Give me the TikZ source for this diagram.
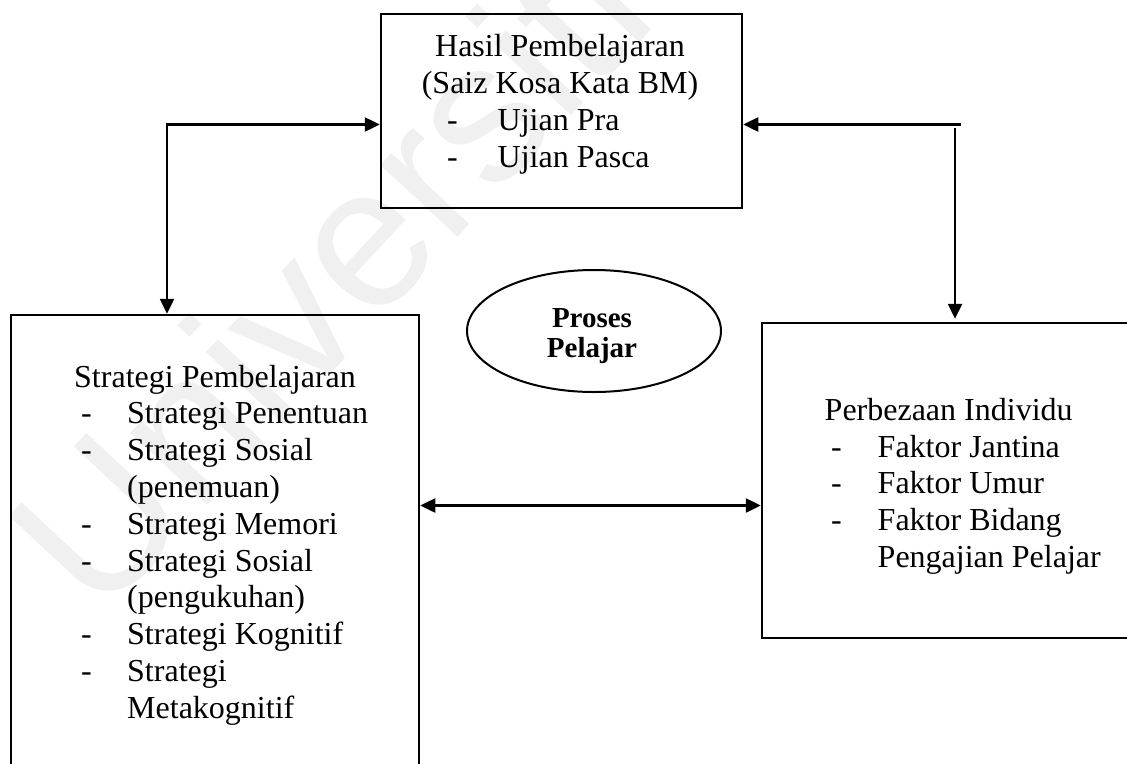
\documentclass[tikz,border=0pt]{standalone}
\usepackage{fontspec}
\setmainfont{Liberation Serif}
\newfontfamily\wmfont{Liberation Sans}
\usetikzlibrary{arrows.meta,shapes.geometric}
\begin{document}
\begin{tikzpicture}[x=1pt,y=-1pt,
  boxst/.style={draw, line width=2.5pt, inner sep=0pt, rectangle},
  ovalst/.style={draw, line width=2pt, inner sep=0pt, ellipse},
  lbl/.style={inner sep=0pt, anchor=base west, font=\fontsize{32}{36.8}\selectfont},
  clbl/.style={inner sep=0pt, anchor=base, font=\fontsize{32}{36.8}\selectfont},
  blbl/.style={inner sep=0pt, anchor=base, font=\fontsize{29}{30}\selectfont\bfseries},
  tipst/.tip={Triangle[length=15pt,width=14pt]},
  twoway/.style={line width=2.5pt, tipst-tipst},
  oneway/.style={line width=2.5pt, -tipst},
  wm/.style={inner sep=0pt, text=black!6, font=\fontsize{200}{200}\wmfont}
]
\useasboundingbox (0,0) rectangle (1127,763);
\clip (0,0) rectangle (1127,763);

% watermark
\node[wm, rotate=47] (wmark) at (328,272) {Universiti};

% boxes
\node[boxst, minimum width=361pt, minimum height=194pt] (top) at (561.5,111) {};
\node[boxst, minimum width=408pt, minimum height=485pt] (left) at (215,557.5) {};
\node[boxst, minimum width=383pt, minimum height=315pt] (right) at (953.5,480.5) {};
\node[ovalst, minimum width=254pt, minimum height=122pt] (oval) at (594,331) {};

% top box text
\node[clbl] (t1) at (560,56) {Hasil Pembelajaran};
\node[clbl] (t2) at (560,93) {(Saiz Kosa Kata BM)};
\node[lbl] (t3d) at (447,130) {-};
\node[lbl] (t3) at (497.5,130) {Ujian Pra};
\node[lbl] (t4d) at (447,167) {-};
\node[lbl] (t4) at (497.5,167) {Ujian Pasca};

% ellipse text
\node[blbl] (o1) at (592,327) {Proses};
\node[blbl] (o2) at (592,357) {Pelajar};

% left box text
\node[lbl] (l0) at (74,387) {Strategi Pembelajaran};
\node[lbl] (l1d) at (81,423.8) {-};
\node[lbl] (l1) at (127,423.8) {Strategi Penentuan};
\node[lbl] (l2d) at (81,460.6) {-};
\node[lbl] (l2) at (127,460.6) {Strategi Sosial};
\node[lbl] (l3) at (127,497.4) {(penemuan)};
\node[lbl] (l4d) at (81,534.2) {-};
\node[lbl] (l4) at (127,534.2) {Strategi Memori};
\node[lbl] (l5d) at (81,571) {-};
\node[lbl] (l5) at (127,571) {Strategi Sosial};
\node[lbl] (l6) at (127,607.8) {(pengukuhan)};
\node[lbl] (l7d) at (81,644.6) {-};
\node[lbl] (l7) at (127,644.6) {Strategi Kognitif};
\node[lbl] (l8d) at (81,681.4) {-};
\node[lbl] (l8) at (127,681.4) {Strategi};
\node[lbl] (l9) at (127,718.2) {Metakognitif};

% right box text
\node[lbl] (r0) at (824.5,420) {Perbezaan Individu};
\node[lbl] (r1d) at (831,457) {-};
\node[lbl] (r1) at (877.5,457) {Faktor Jantina};
\node[lbl] (r2d) at (831,493.5) {-};
\node[lbl] (r2) at (877.5,493.5) {Faktor Umur};
\node[lbl] (r3d) at (831,530) {-};
\node[lbl] (r3) at (877.5,530) {Faktor Bidang};
\node[lbl] (r4) at (877.5,567) {Pengajian Pelajar};

% connector anchor points
\coordinate (cl) at (167,124.5);
\coordinate (cr1) at (961,124.5);
\coordinate (cr2) at (955,127.5);
\coordinate (cm) at (590,505.5);

% connectors
\draw[twoway] (left.north -| cl) -- (cl) -- (top.west |- cl);
\draw[oneway] (cr1) -- (top.east |- cr1);
\draw[oneway, shorten >=3pt] (cr2) -- (right.north -| cr2);
\draw[twoway] (left.east |- cm) -- (right.west |- cm);
\end{tikzpicture}
\end{document}
